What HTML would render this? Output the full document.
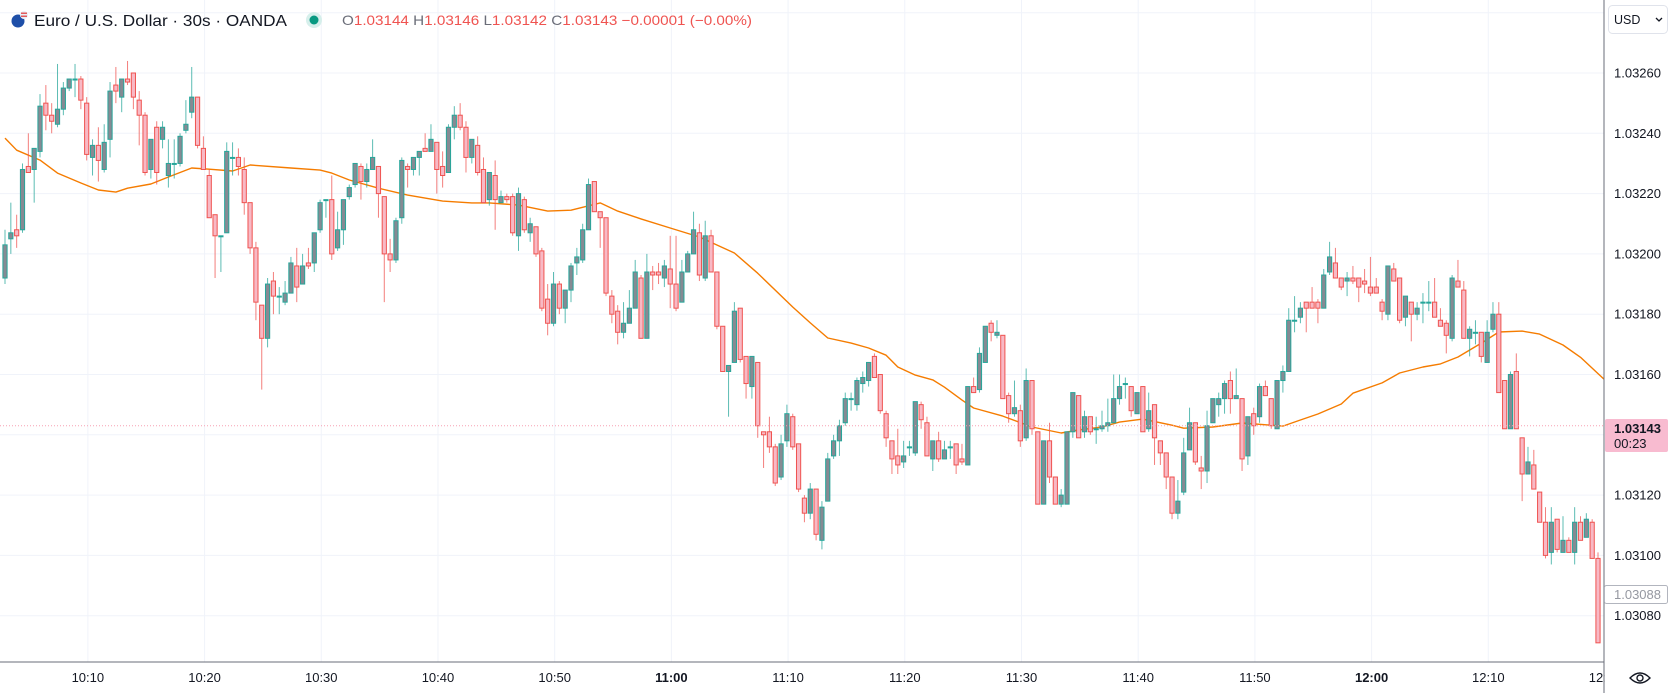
<!DOCTYPE html>
<html><head><meta charset="utf-8">
<style>
html,body{margin:0;padding:0;background:#fff;}
#wrap{position:relative;width:1674px;height:693px;overflow:hidden;font-family:"Liberation Sans",Arial,sans-serif;}
svg{position:absolute;left:0;top:0;}
</style></head>
<body>
<div id="wrap">
<svg id="chart" width="1674" height="693" viewBox="0 0 1674 693">
  <g id="grid"></g>
  <g id="ma"></g>
  <g id="candles"></g>
  <line x1="0" x2="1604" y1="425.8" y2="425.8" stroke="#f7a1b4" stroke-width="1" stroke-dasharray="1,2"/>
  <rect x="1604" y="0" width="70" height="693" fill="#fff"/>
  <rect x="0" y="662" width="1674" height="31" fill="#fff"/>
  <line x1="1604" x2="1604" y1="0" y2="693" stroke="#6a6d78" stroke-width="1"/>
  <line x1="0" x2="1604" y1="662" y2="662" stroke="#6a6d78" stroke-width="1"/>
  <g id="yticks"></g>
  <g id="xticks"></g>
  <g>
    <rect x="1605" y="419" width="63" height="33" rx="2" fill="#f8bbd0"/>
    <text x="1614" y="433" font-size="13" font-weight="bold" fill="#131722">1.03143</text>
    <text x="1614" y="448" font-size="13" fill="#131722">00:23</text>
  </g>
  <g>
    <rect x="1604.5" y="585.5" width="63" height="18" rx="2" fill="#fff" stroke="#b2b5be"/>
    <text x="1614" y="599" font-size="13" fill="#9598a1">1.03088</text>
  </g>
  <g>
    <rect x="1608.5" y="5.5" width="59" height="28" rx="4" fill="#fff" stroke="#e0e3eb"/>
    <text x="1614" y="24" font-size="12.5" fill="#131722">USD</text>
    <path d="M1656 18 l3 3 l3 -3" fill="none" stroke="#131722" stroke-width="1.3"/>
  </g>
  <g transform="translate(1640,678)">
    <path d="M-10 0 Q0 -10 10 0 Q0 10 -10 0 Z" fill="none" stroke="#131722" stroke-width="1.4"/>
    <circle r="3" fill="none" stroke="#131722" stroke-width="1.4"/>
  </g>
  <g>
    <g>
      <circle cx="18" cy="21" r="6.5" fill="#1e4fa8"/>
      <circle cx="24" cy="15" r="4" fill="#e8eef7"/>
      <rect x="21" y="12.5" width="6" height="1.5" fill="#e25b5b"/>
      <rect x="21" y="15.5" width="6" height="1.5" fill="#e25b5b"/>
    </g>
    <text x="34" y="26" font-size="16" fill="#131722" textLength="253" lengthAdjust="spacingAndGlyphs">Euro / U.S. Dollar · 30s · OANDA</text>
    <circle cx="314" cy="20" r="8" fill="#d6efeb"/>
    <circle cx="314" cy="20" r="4.5" fill="#089981"/>
    <text x="342" y="25" font-size="14" fill="#ef5350" textLength="410" lengthAdjust="spacingAndGlyphs"><tspan fill="#6a6d78">O</tspan>1.03144 <tspan fill="#6a6d78">H</tspan>1.03146 <tspan fill="#6a6d78">L</tspan>1.03142 <tspan fill="#6a6d78">C</tspan>1.03143 −0.00001 (−0.00%)</text>
  </g>
</svg>
</div>
<script>
// prices in points: price = 1.03 + value/100000
const opens = [192,205,208,208,229,228,234,250,246,243,248,255,258,258,250,232,236,228,238,256,252,258,260,251,246,228,242,238,226,230,
230,241,247,252,235,226,213,206,207,232,232,228,217,202,183,172,191,186,184,187,196,190,197,197,208,218,218,202,208,219,
223,229,224,228,229,219,200,198,212,229,228,232,235,234,237,229,227,242,246,242,232,236,228,218,226,217,219,219,206,218,
207,209,201,185,177,190,182,188,197,198,208,224,214,212,186,181,174,177,182,192,172,194,194,192,195,190,184,194,200,207,
192,206,194,176,161,164,182,166,156,164,141,141,136,126,138,146,137,119,114,122,105,118,133,138,144,152,150,157,158,166,
160,147,138,133,131,136,134,150,144,132,138,132,136,137,132,130,156,155,164,177,173,173,153,147,148,139,158,141,117,138,
126,117,117,141,153,141,146,142,142,143,144,152,157,156,147,156,142,150,138,134,126,114,121,135,144,129,128,144,150,152,
158,152,152,133,147,146,156,152,142,158,161,178,179,184,184,184,182,194,197,192,191,192,192,191,189,189,184,180,195,192,
179,184,180,184,184,184,178,177,172,191,188,172,174,174,164,175,180,158,142,161,139,127,130,121,111,101,112,101,105,101,
111,106,111,99];
const highs = [208,217,213,230,240,235,253,256,250,263,257,258,263,259,252,238,242,243,257,262,258,264,260,254,247,238,244,244,238,238,
240,251,262,252,239,228,213,206,237,237,235,232,217,204,183,192,194,189,191,199,202,200,202,207,218,218,226,214,218,223,
230,230,230,238,229,219,205,212,232,230,232,234,240,243,237,234,243,249,250,244,238,239,232,227,231,221,220,220,222,219,
212,209,202,190,194,191,188,197,202,210,225,224,214,212,188,183,184,188,198,193,200,196,197,198,206,206,198,201,214,210,
211,208,194,176,163,184,182,166,166,164,141,146,137,140,150,147,137,120,124,122,118,134,140,145,154,154,159,161,164,167,
160,148,138,142,138,138,151,151,146,138,141,138,138,137,137,156,159,169,176,178,178,173,154,158,150,162,158,141,138,144,
126,122,141,154,153,148,146,146,148,152,160,160,159,156,154,156,154,150,138,134,126,125,139,149,144,133,148,152,154,158,
161,162,152,146,149,157,158,152,158,163,182,186,184,184,189,185,195,204,202,192,194,196,192,195,199,192,185,196,197,192,
186,184,184,187,191,192,182,178,193,198,191,176,178,174,178,184,184,158,161,167,139,136,135,121,116,116,112,113,106,116,113,
114,112,101];
const lows = [190,200,202,207,227,217,232,241,240,242,246,254,252,248,231,226,224,227,232,250,247,256,248,236,226,225,223,235,222,225,
229,240,245,235,228,212,192,194,207,226,226,213,200,178,155,169,180,180,183,187,184,190,195,194,207,212,198,201,203,218,
222,218,222,228,212,184,194,197,210,222,226,226,234,234,220,222,227,238,241,227,230,226,217,216,208,217,217,206,201,207,
204,199,181,173,176,180,177,184,193,197,208,214,202,186,177,170,172,177,184,172,172,188,190,189,182,181,184,194,200,191,
191,194,175,161,146,164,164,152,152,139,129,134,123,125,136,135,121,111,112,105,102,118,132,133,143,148,148,154,156,159,
147,136,127,127,129,133,133,142,133,128,131,132,132,127,130,130,154,154,164,171,172,152,144,146,136,138,140,117,117,124,
117,116,117,139,139,139,140,137,141,141,144,150,152,146,147,141,141,130,130,122,112,112,120,135,130,122,124,144,146,147,
147,152,128,130,140,144,153,142,142,154,161,174,177,174,182,177,182,193,192,188,186,190,184,187,186,187,178,178,191,177,
176,171,178,177,181,179,176,167,171,189,172,166,170,164,164,174,154,142,142,142,118,127,122,111,99,97,101,101,101,97,
105,106,99,71];
const closes = [203,207,206,228,227,235,249,246,244,248,255,258,258,251,233,236,231,237,254,254,258,257,252,246,227,238,227,242,230,230,
239,243,252,236,228,212,206,206,234,232,229,217,202,184,172,190,186,186,187,197,189,196,196,207,217,218,200,208,218,222,
230,224,228,232,220,200,198,211,231,228,232,234,234,238,228,226,242,246,242,232,238,227,217,227,218,219,218,207,220,208,
210,200,182,177,190,182,188,196,199,208,223,214,212,187,180,174,177,182,194,172,194,193,193,196,190,182,194,200,208,193,
206,194,176,161,163,181,165,157,166,143,140,136,124,137,147,136,122,114,122,107,116,132,138,143,152,152,158,159,164,159,
148,139,132,130,133,136,151,145,133,138,132,135,136,130,131,156,154,167,176,174,174,152,147,149,138,158,142,117,138,126,
117,120,141,154,139,146,141,142,143,144,152,156,157,148,154,141,148,139,134,126,114,118,134,144,131,128,143,152,152,157,
152,153,132,146,143,156,153,143,158,161,178,178,182,182,182,182,193,199,192,189,192,191,189,190,187,187,181,196,191,178,
186,180,182,184,184,179,176,173,192,189,172,175,174,166,174,180,154,142,160,142,127,131,122,111,100,111,102,105,101,111,
105,112,99,71];
// moving average samples: candle index and value (points)
const maIdx = [0,2,6,9,13,16,19,21,25,28,32,35,39,42,49,54,56,59,64,69,75,80,83,88,93,97,102,105,109,114,119,125,129,135,138,141,145,148,151,153,156,159,161,164,166,171,176,181,184,188,191,195,200,202,207,212,219,222,225,229,231,236,239,243,246,249,253,256,260,263,267,270,274];
const maVal = [238.4,234.4,231.1,226.8,223.5,221.2,220.5,221.8,223.2,225.5,228.5,228.1,227.5,229.5,228.5,227.8,226.8,224.5,221.8,219.5,217.5,216.9,216.9,216.2,214.2,214.5,216.9,214.2,211.6,208.6,205.6,200.3,193.6,182.4,177.1,172.1,170.4,168.8,166.4,162.5,159.8,158.2,155.8,151.5,148.9,146.2,142.6,140.6,141.6,142.6,144.2,145.2,143.2,142.2,142.6,143.9,142.9,144.9,146.9,150.2,153.8,157.2,160.5,162.5,163.5,165.8,170.4,174.1,174.4,173.4,169.8,165.7,158.5];
const priceTicks = [280,260,240,220,200,180,160,140,120,100,80];
const timeLabels = ["10:10","10:20","10:30","10:40","10:50","11:00","11:10","11:20","11:30","11:40","11:50","12:00","12:10","12:20"];
const boldLabels = ["11:00","12:00"];

const NS = "http://www.w3.org/2000/svg";
const X0 = 5, STEP = (1598 - 5) / 273;
function xScale(i){ return X0 + i * STEP; }
function yScale(p){ return 73 + (260 - p) * 3.015; }
function mk(tag, attrs, parent){
  const e = document.createElementNS(NS, tag);
  for (const k in attrs) e.setAttribute(k, attrs[k]);
  parent.appendChild(e); return e;
}
const gGrid = document.getElementById('grid');
const gC = document.getElementById('candles');
const gMa = document.getElementById('ma');
const gY = document.getElementById('yticks');
const gX = document.getElementById('xticks');

priceTicks.forEach(p => {
  const y = yScale(p);
  const ln = mk('line', {x1:0, x2:1604, y1:y, y2:y, stroke:'#f0f3fa', 'stroke-width':1}, gGrid);
  
  
  if (p <= 260 && p !== 140) {
    const t = mk('text', {x:1614, y:y+4.5, 'font-size':13, fill:'#131722'}, gY);
    t.textContent = (1.03 + p/100000).toFixed(5);
    
    
  }
});
timeLabels.forEach((lab, k) => {
  const x = xScale(14.2 + 20 * k);
  const ln = mk('line', {x1:x, x2:x, y1:0, y2:662, stroke:'#f0f3fa', 'stroke-width':1}, gGrid);
  
  
  const t = mk('text', {x:x, y:682, 'font-size':13, fill:'#131722', 'text-anchor':'middle', 'font-weight': boldLabels.includes(lab) ? 'bold' : 'normal'}, gX);
  t.textContent = lab;
  
  
});
mk('rect', {x:1604.5, y:663, width:70, height:30, fill:'#fff'}, gX);

let d = '';
maIdx.forEach((i, k) => { d += (k ? 'L' : 'M') + xScale(i).toFixed(1) + ' ' + yScale(maVal[k]).toFixed(1); });
const maPath = mk('path', {d:d, fill:'none', stroke:'#f57c00', 'stroke-width':1.4, 'stroke-linejoin':'round'}, gMa);



const BW = 4.2;
opens.forEach((o, i) => {
  const c = closes[i], h = highs[i], l = lows[i];
  const up = c >= o;
  const x = xScale(i);
  const g = mk('g', {}, gC);
  
  
  const wc = up ? '#26a69a' : '#ef5350';
  mk('line', {x1:x, x2:x, y1:yScale(Math.max(h,o,c)), y2:yScale(Math.min(l,o,c)), stroke:wc, 'stroke-width':1, 'stroke-opacity':0.75}, g);
  const yt = yScale(Math.max(o,c)), yb = yScale(Math.min(o,c));
  mk('rect', {x:x-BW/2, y:yt, width:BW, height:Math.max(yb-yt,1), fill: up ? '#868a93' : '#f8b9c5', stroke:wc, 'stroke-width':1}, g);
});
</script>
</body></html>
